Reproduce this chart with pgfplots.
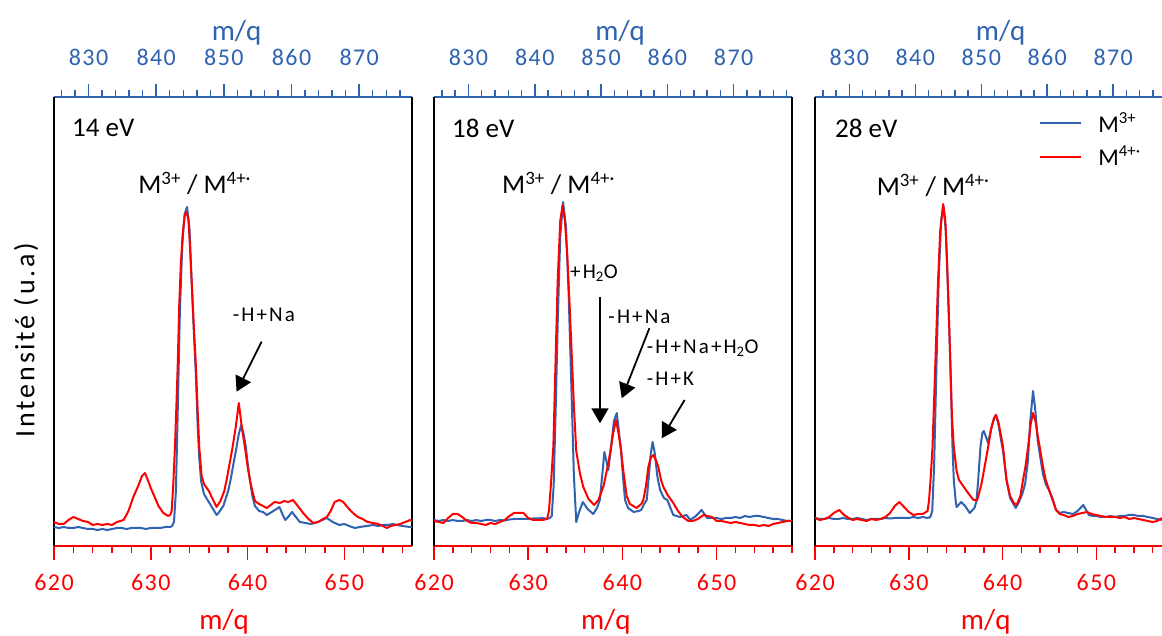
\documentclass[border=0pt]{standalone}
\usepackage{fontspec}
\setmainfont{Carlito}
\newfontfamily\lsfont{Carlito}[LetterSpace=10]
\newfontfamily\tkfont{Carlito}[LetterSpace=6]
\usepackage{pgfplots}
\pgfplotsset{compat=1.18}
\usetikzlibrary{arrows.meta}
\definecolor{cblue}{RGB}{47,99,176}
\definecolor{cred}{RGB}{255,0,0}
\newcommand{\fs}[1]{\fontsize{#1}{#1}\selectfont}
\pgfplotsset{
 topax/.style={scale only axis, anchor=south west, height=449pt, ymin=0, ymax=449,
   axis x line*=top, axis y line=none,
   x axis line style={cblue, line width=1.8pt, -},
   xtick={830,840,...,870}, minor xtick={826,828,...,878},
   xtick pos=upper, xticklabel pos=upper, tick align=outside,
   major tick length=13pt, minor tick length=7pt,
   tick style={cblue, line width=1.5pt},
   xticklabel style={font=\tkfont\fs{24}, text=cblue, anchor=base, yshift=18.5pt},
   xlabel={m/q},
   xlabel style={anchor=base, font=\fs{29}, text=cblue},
   ytick=\empty, /pgf/number format/assume math mode=true},
 botax/.style={scale only axis, anchor=south west, height=449pt, ymin=0, ymax=449,
   axis x line*=bottom,
   x axis line style={cred, line width=2pt, -},
   y axis line style={black, line width=2pt, -},
   xtick={620,630,640,650}, minor xtick={620,622,...,658},
   xtick pos=lower, xticklabel pos=lower, tick align=outside,
   major tick length=14pt, minor tick length=7pt,
   tick style={cred, line width=1.5pt},
   ytick=\empty,
   xticklabel style={font=\tkfont\fs{24}, text=cred, anchor=base, yshift=-31pt},
   xlabel={m/q},
   xlabel style={anchor=base, font=\fs{29}, text=cred},
   every axis plot/.append style={line width=2pt, no markers, line join=round},
   /pgf/number format/assume math mode=true},
}
\tikzset{arr/.style={line width=1.8pt, -{Triangle[width=17pt,length=15pt]}},
 ann/.style={anchor=west, inner sep=0pt, font=\lsfont\fs{21}},
 big/.style={anchor=west, inner sep=0pt, font=\fs{27}}}
\begin{document}
\begin{tikzpicture}
\useasboundingbox (-54pt,-90pt) rectangle (1108pt,546pt);
% ---------------- Panel 1 ----------------
\begin{axis}[topax, at={(0pt,0pt)}, width=358pt, xmin=824.9, xmax=877.8,
  xlabel style={at={(axis description cs:0.51,1.125)}}]
\end{axis}
\begin{axis}[botax, at={(0pt,0pt)}, width=358pt, xmin=620, xmax=657,
  axis y line*=box,
  xlabel style={at={(axis description cs:0.475,-0.186)}},
  ylabel={Intensité (u.a)},
  ylabel style={at={(axis description cs:-0.078,0.459)}, anchor=center, font=\lsfont\fs{28}}]
\addplot[cblue] coordinates {
(620,19)(620.5,18)(621,19)(621.5,18)(622,18)(622.5,19)(623,18)(623.5,17)(624,17)(624.5,16)(625,17)(625.5,16)
(626,17)(626.5,18)(627,18)(627.5,17)(628,18)(628.5,18)(629,18)(629.5,17)(630,18)(630.5,18)(631,18)(631.5,19)
(632,19)(632.2,20)(632.4,24)(632.6,55)(632.8,140)(633.0,230)(633.25,300)(633.5,332)(633.75,339)(634.0,318)
(634.22,266)(634.45,215)(634.67,170)(634.85,120)(635.0,90)(635.2,65)(635.5,52)(636.0,44)(636.5,36)(636.8,31)
(637.0,33)(637.5,40)(638.0,55)(638.25,66)(638.6,85)(638.87,99)(639.1,112)(639.35,121)(639.6,112)(639.83,99)
(640.05,80)(640.25,66)(640.5,50)(640.77,40)(641.2,35)(641.6,34)(642.0,31)(642.5,34)(643.0,37)(643.3,39)
(643.6,32)(643.9,26)(644.2,29)(644.6,34)(645.0,29)(645.4,24)(646,23)(646.5,22)(647,23)(647.5,25)(648.2,28)
(648.8,24)(649.5,21)(650,22)(650.5,20)(651.1,18)(651.6,19)(652.3,20)(653,21)(653.5,20)(654,21)(654.5,21)
(655,22)(655.5,21)(656,20)(656.8,19)(657,19)};
\addplot[cred] coordinates {
(620,24)(620.5,22)(621,22)(621.5,26)(622,29)(622.5,27)(623,25)(623.5,24)(624,21)(624.5,22)(625,21)(625.5,22)
(626,21)(626.5,24)(627.2,26)(627.7,35)(628.2,49)(628.7,60)(629.1,70)(629.4,73)(629.7,66)(630.0,58)(630.4,49)
(630.8,40)(631.3,33)(631.8,30)(632.0,31)(632.16,35)(632.32,60)(632.5,99)(632.65,140)(632.8,185)(632.94,240)
(633.1,280)(633.3,312)(633.5,330)(633.7,334)(633.9,326)(634.05,300)(634.22,266)(634.45,220)(634.67,179)
(634.85,135)(635.01,99)(635.26,70)(635.5,62)(636,55)(636.5,45)(636.8,39)(637.2,45)(637.6,55)(637.84,66)
(638.2,85)(638.46,99)(638.8,120)(639.1,143)(639.42,118)(639.73,99)(640.0,80)(640.25,66)(640.5,55)(640.77,45)
(641.2,42)(641.6,40)(642,38)(642.4,41)(642.8,44)(643.35,43)(643.8,45)(644.2,44)(644.7,46)(645.2,40)(645.75,33)
(646.3,27)(646.8,23)(647.3,24)(647.8,27)(648.2,29)(648.6,35)(649.0,44)(649.5,46)(649.9,44)(650.4,38)(650.9,33)
(651.4,29)(651.9,27)(652.4,24)(653,23)(653.5,22)(654,20)(654.4,18)(654.8,20)(655.3,21)(655.8,22)(656.3,24)
(656.8,26)(657,25)};
\node[big] at (axis cs:621.86,418) {14 eV};
\node[big] at (axis cs:628.7,363) {M\textsuperscript{3+} / M\textsuperscript{4+·}};
\node[ann, anchor=center] at (axis cs:641.7,231) {-H+Na};
\draw[arr] (axis cs:641.46,204.3) -- (axis cs:638.87,154.3);
\end{axis}
% ---------------- Panel 2 ----------------
\begin{axis}[topax, at={(380pt,0pt)}, width=358pt, xmin=824.8, xmax=878.8,
  xlabel style={at={(axis description cs:0.52,1.125)}}]
\end{axis}
\begin{axis}[botax, at={(380pt,0pt)}, width=358pt, xmin=620, xmax=658,
  axis y line*=box,
  xlabel style={at={(axis description cs:0.48,-0.186)}}]
\addplot[cblue] coordinates {
(620,26)(620.5,25)(621,26)(621.5,25)(622,26)(622.5,25)(623,25)(623.5,26)(624,25)(624.5,26)(625,25)(625.5,26)
(626,26)(626.5,25)(627,26)(627.5,25.5)(628,26.5)(628.5,27)(629,27)(629.5,27)(630,27)(630.5,27.5)(631,27.5)
(631.5,28)(632,27)(632.3,28)(632.5,30)(632.7,60)(632.9,130)(633.15,230)(633.4,310)(633.7,344)(634.0,320)
(634.3,250)(634.62,146)(634.85,70)(635.1,24)(635.4,34)(635.8,44)(636.3,37)(636.9,32)(637.3,38)(637.6,46)
(637.85,70)(638.08,94)(638.3,85)(638.5,76)(638.8,100)(639.1,125)(639.4,133)(639.62,115)(639.85,96)(640.05,70)
(640.28,46)(640.6,38)(641.2,34)(641.7,35)(642.0,36)(642.3,42)(642.58,46)(642.85,75)(643.0,92)(643.21,104)
(643.45,92)(643.7,70)(644.0,56)(644.4,48)(644.77,46)(645.1,38)(645.4,31)(646.1,29)(646.8,31)(647.2,26)
(647.8,30)(648.4,36)(649,28)(649.5,28)(650,28)(650.5,27)(651,28)(651.5,28)(652,29)(652.5,28)(653,30)
(653.5,29)(654,30)(654.5,30)(655,29)(655.5,28)(656,27)(656.5,27)(657,26)(657.5,25)(658,25)};
\addplot[cred] coordinates {
(620,25)(620.5,24)(621,23)(621.5,28)(622,32)(622.5,32)(623,29)(623.5,25)(624,23)(624.5,23)(625,22)(625.5,21)
(626,23)(626.5,22)(627,24)(627.5,26)(628,30)(628.5,33)(629,33)(629.5,33)(630,28)(630.5,26)(631,26)(631.5,26)
(632.0,27)(632.2,35)(632.4,60)(632.67,100)(632.85,166)(633.13,266)(633.4,325)(633.65,341)(633.9,325)
(634.15,290)(634.4,240)(634.65,185)(634.85,140)(635.1,95)(635.5,72)(635.85,59)(636.4,47)(637.0,41)(637.45,46)
(638.0,60)(638.4,78)(638.76,96)(639.0,112)(639.32,126)(639.6,112)(639.85,96)(640.1,75)(640.45,50)(640.8,42)
(641.5,38)(642.0,42)(642.22,46)(642.5,60)(642.75,79)(643.0,88)(643.28,91)(643.55,86)(643.81,79)(644.1,66)
(644.35,59)(644.8,51)(645.4,43)(645.9,35)(646.4,29)(647,25)(647.5,25)(648,27)(648.6,31)(649,30)(649.5,29)
(650,25)(650.5,25)(651,24)(651.5,23)(652,24)(652.5,23)(653,22)(653.5,21)(654,21)(654.5,20)(655,21)(655.5,20)
(656,22)(656.5,23)(657,24)(657.5,25)(658,25)};
\node[big] at (axis cs:621.9,418) {18 eV};
\node[big] at (axis cs:627.22,363) {M\textsuperscript{3+} / M\textsuperscript{4+·}};
\node[ann] at (axis cs:634.44,272.7) {+H\textsubscript{2}O};
\draw[arr] (axis cs:637.62,249.3) -- (axis cs:637.62,122.7);
\node[ann] at (axis cs:638.5,229.3) {-H+Na};
\draw[arr] (axis cs:642.86,217.7) -- (axis cs:639.93,147.7);
\node[ann] at (axis cs:642.58,197.7) {-H+Na+H\textsubscript{2}O};
\node[ann] at (axis cs:642.58,167.7) {-H+K};
\draw[arr] (axis cs:646.6,146) -- (axis cs:644.17,107.7);
\end{axis}
% ---------------- Panel 3 ----------------
\begin{axis}[topax, at={(761pt,0pt)}, width=347pt, xmin=824.8, xmax=877.4,
  xlabel style={at={(axis description cs:0.535,1.125)}}]
\end{axis}
\begin{axis}[botax, at={(761pt,0pt)}, width=347pt, xmin=620, xmax=657,
  axis y line*=left,
  xlabel style={at={(axis description cs:0.492,-0.186)}},
  legend style={at={(axis description cs:0.646,0.97)}, anchor=north west, draw=none, fill=none,
    font=\fs{24}, row sep=8pt, inner sep=0pt, /tikz/every odd column/.append style={column sep=14pt}},
  legend cell align=left,
  legend image code/.code={\draw[#1, line width=2pt] (0pt,0pt) -- (41pt,0pt);}]
\addplot[cblue] coordinates {
(620,28)(620.5,27)(621,27)(621.5,28)(622,27)(622.5,27)(623,28)(623.5,27)(624,27)(624.5,28)(625,27)(625.5,26)
(626,27)(626.5,27)(627,27)(627.5,28)(628,27.5)(628.5,28)(629,28)(629.5,28)(630,28)(630.5,29)(631,28)(631.5,29)
(632,28)(632.3,29)(632.5,35)(632.7,80)(632.95,180)(633.2,270)(633.45,325)(633.7,340)(633.95,315)(634.2,250)
(634.38,199)(634.66,99)(634.8,66)(635.0,45)(635.1,39)(635.4,42)(635.6,44)(636.0,40)(636.5,33)(637.0,38)
(637.22,45)(637.4,66)(637.65,100)(637.85,113)(638.0,115)(638.2,110)(638.46,103)(638.8,118)(639.1,128)
(639.3,131)(639.55,122)(639.8,108)(640.05,95)(640.42,66)(640.8,48)(641.4,38)(641.8,45)(642.1,52)(642.4,62)
(642.7,85)(642.95,125)(643.25,155)(643.5,135)(643.75,105)(644.0,90)(644.3,72)(644.6,62)(645.0,55)(645.3,48)
(645.7,36)(646.1,33)(646.5,34)(647,33)(647.5,32)(648,35)(648.6,41)(649.2,31)(649.6,30)(650,30)(650.5,29)
(651,29)(651.5,30)(652,29)(652.5,30)(653,30)(653.5,31)(654,31)(654.5,30)(655,30)(655.5,29)(656,28)(656.5,27)
(657,26)};
\addlegendentry{M\textsuperscript{3+}}
\addplot[cred] coordinates {
(620,28)(620.5,26)(621,27)(621.5,29)(622,33)(622.6,36)(623.1,31)(623.6,28)(624,26)(624.5,27)(625,26)(625.5,25)
(626,27)(626.5,26)(627,27)(627.5,29)(628,33)(628.5,40)(629,44)(629.5,39)(630,34)(630.5,31)(631,32)(631.5,32)
(632.0,35)(632.15,45)(632.32,66)(632.53,99)(632.89,199)(633.1,260)(633.35,315)(633.66,342)(633.9,325)
(634.1,280)(634.38,199)(634.6,130)(634.8,99)(635.1,75)(635.35,66)(635.8,60)(636.4,52)(636.9,46)(637.3,46)
(637.75,62)(638.1,80)(638.46,99)(638.8,118)(639.1,128)(639.3,131)(639.55,124)(639.8,112)(640.05,99)
(640.42,66)(640.8,50)(641.2,43)(641.5,41)(641.9,50)(642.18,66)(642.45,80)(642.72,99)(643.0,122)(643.25,133)
(643.5,125)(643.75,110)(643.96,99)(644.3,80)(644.6,66)(645.0,55)(645.3,47)(645.7,36)(646.1,32)(646.5,31)
(647,29)(647.5,30)(648,32)(648.5,33)(649,34)(649.5,32)(650,31)(650.5,30)(651,29)(651.5,29)(652,29)(652.5,28)
(653,29)(653.5,27)(654,28)(654.5,27)(655,26)(655.5,25)(656,24)(656.5,25)(657,28)};
\addlegendentry{M\textsuperscript{4+·}}
\node[big] at (axis cs:622.13,418) {28 eV};
\node[big] at (axis cs:626.57,361) {M\textsuperscript{3+} / M\textsuperscript{4+·}};
\end{axis}
\end{tikzpicture}
\end{document}
